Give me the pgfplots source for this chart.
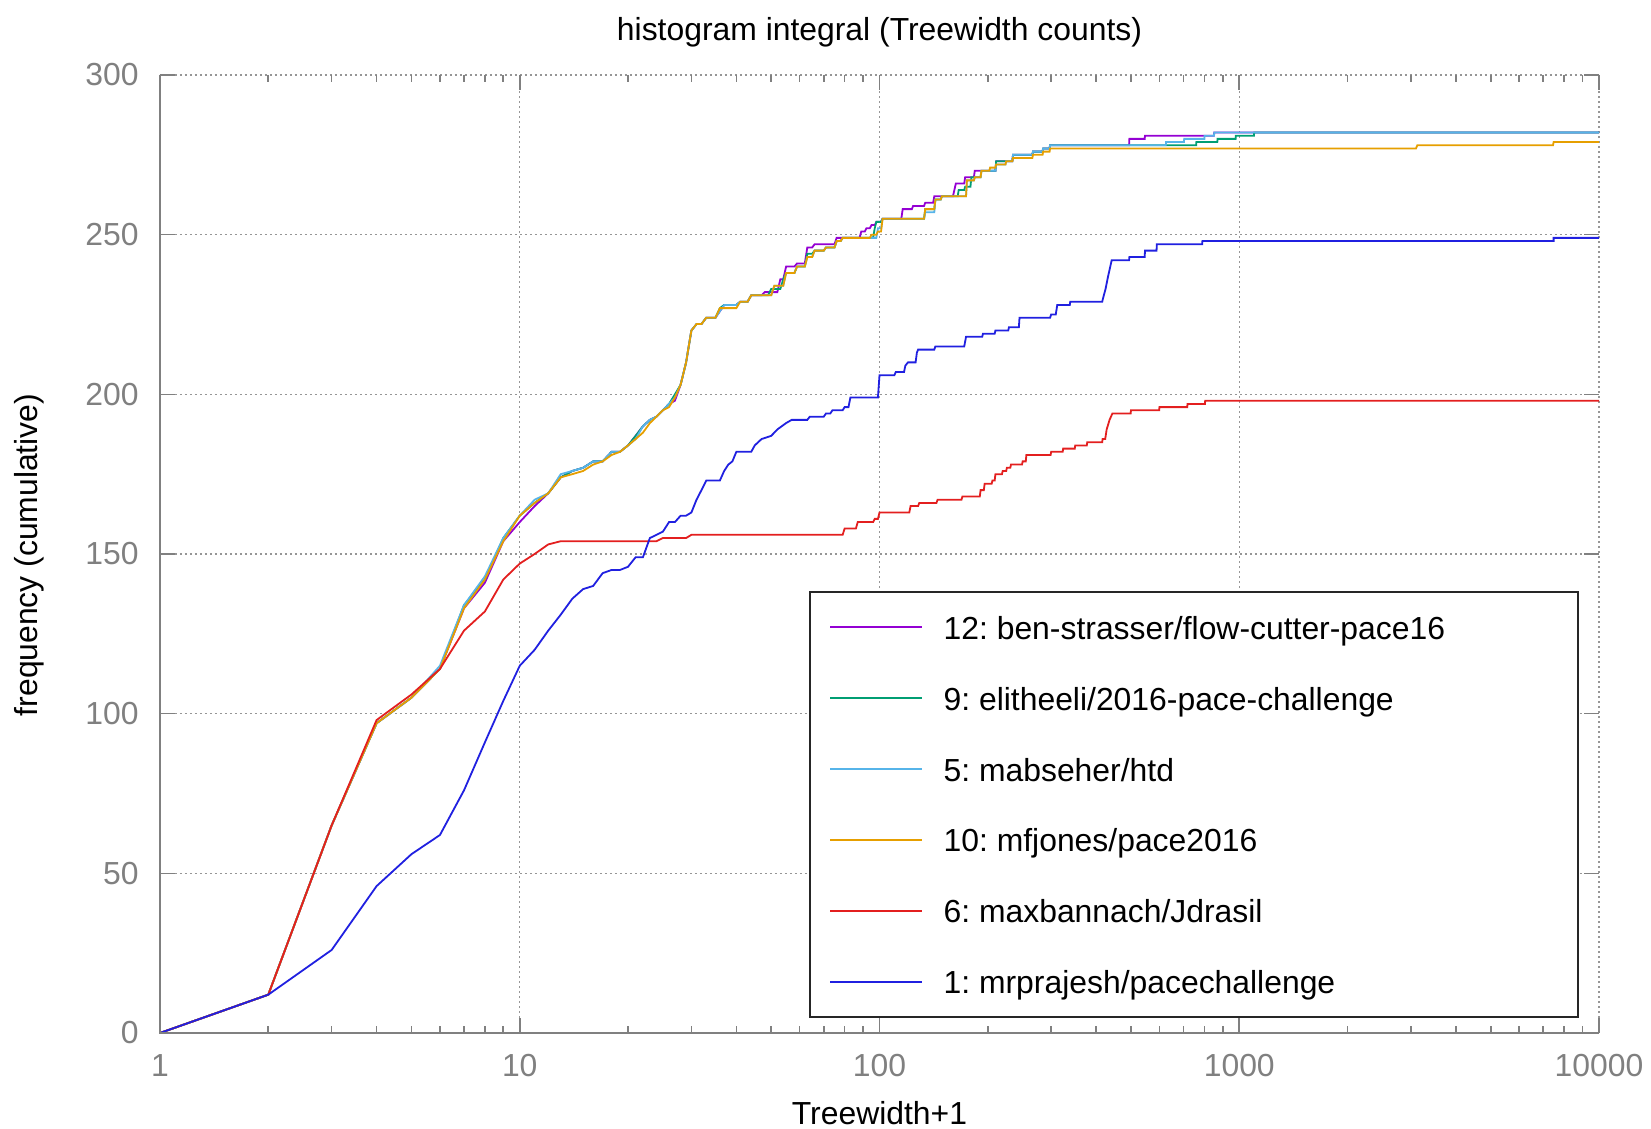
\documentclass[border=0pt]{standalone}
\usepackage{fontspec}
\setmainfont{Liberation Sans}
\usepackage{pgfplots}
\pgfplotsset{compat=1.18}
\definecolor{cpurple}{HTML}{9400D3}
\definecolor{cgreen}{HTML}{009E73}
\definecolor{ccyan}{HTML}{56B4E9}
\definecolor{corange}{HTML}{E69F00}
\definecolor{cred}{HTML}{E31F1F}
\definecolor{cblue}{HTML}{2020E0}
\definecolor{axgray}{RGB}{128,128,128}
\definecolor{gridgray}{RGB}{150,150,150}
\newcommand{\fs}{\fontsize{16}{19}\selectfont}
\newcommand{\st}{\rule[-2.15bp]{0pt}{15.5bp}}
\begin{document}
\frenchspacing
\begin{tikzpicture}
\begin{axis}[
  xmode=log, xmin=1, xmax=10000, ymin=0, ymax=300,
  scale only axis, width=719.5bp, height=479bp,
  xtick={1,10,100,1000,10000}, xticklabels={1,10,100,1000,10000},
  minor xtick={2,3,...,9,20,30,...,90,200,300,...,900,2000,3000,...,9000},
  ytick={0,50,...,300}, yticklabels={0,50,100,150,200,250,300},
  grid=major,
  major grid style={gridgray, line width=0.6bp, dash pattern=on 0.8bp off 1.7bp},
  minor grid style={draw=none},
  tick align=inside,
  major tick length=7.5bp, minor tick length=3.5bp,
  tick style={axgray, line width=0.8bp},
  axis line style={draw=none},
  clip=false,
  tick label style={font=\fs, text=axgray},
  x tick label style={anchor=north, inner sep=0pt, yshift=-10.5bp},
  y tick label style={anchor=east, inner sep=0pt, xshift=-10.5bp},
  every axis title shift=0pt,
  title={histogram integral (Treewidth counts)},
  title style={font=\fs, at={(axis description cs:0.5,1)}, anchor=center, yshift=21.5bp, inner sep=0pt},
  xlabel={Treewidth+1},
  xlabel style={font=\fs, at={(axis description cs:0.5,0)}, anchor=center, yshift=-40bp, inner sep=0pt},
  legend style={at={(0.986,0.0157)}, anchor=south east, draw=black!85, line width=0.8bp, fill=white,
    inner xsep=9.5bp, inner ysep=10.25bp, row sep=20.6bp, column sep=10.5bp, font=\fs,
    nodes={inner sep=0pt}},
  legend cell align=left,
  legend image code/.code={\draw[#1] (0bp,0bp) -- (45.8bp,0bp);},
  every axis plot/.append style={line width=0.9bp},
]
% 12: purple
\addplot[cpurple] coordinates {
(1,0)(2,12)(3,65)(4,97)(5,105)(6,114)(7,133)(8,141)(9,154)(10,160)(11,165)(12,169)(13,174)(14,176)(15,177)(16,179)(17,179)(18,182)(19,182)(20,184)(21,187)(22,190)(23,192)(24,193)(25,195)(26,197)(27,198)(28,203)(29,210)(30,220)(31,222)(32,222)(33,224)(34,224)(35,224)
(36,226)(37,228)(40,228)(41,229)(43,229)(44,231)(47,231)(48,232)(52,232)(53,236)(54,236)(55,240)(58,240)(59,241)(62,241)(63,246)(65,246)(66,247)(75,247)(76,249)(88,249)(89,251)(91,251)(92,252)(94,252)(95,253)(97,253)(98,254)(101,254)(102,255)(115,255)(116,258)(123,258)(124,259)(133,259)(134,260)(141,260)(142,262)(160,262)(163,266)(172,266)(173,268)(183,268)(184,270)(210,270)(211,273)(234,273)(235,275)(266,275)(267,276)(284,276)(285,277)(297,277)(298,278)(494,278)(495,280)(546,280)(547,281)(850,281)(852,282)(10000,282)};
\addlegendentry{\st\makebox[307.7bp][l]{12: ben-strasser/flow-cutter-pace16}}
% 9: green
\addplot[cgreen] coordinates {
(1,0)(2,12)(3,65)(4,97)(5,105)(6,114)(7,134)(8,142)(9,155)(10,162)(11,166)(12,169)(13,174)(14,176)(15,177)(16,179)(17,179)(18,182)(19,182)(20,184)(21,187)(22,190)(23,192)(24,193)(25,195)(26,197)(27,200)(28,203)(29,210)(30,220)(31,222)(32,222)(33,224)(35,224)
(36,227)(37,228)(40,228)(41,229)(43,229)(44,231)(49,231)(50,233)(53,233)(54,236)(55,238)(58,238)(59,240)(62,240)(63,244)(65,244)(66,245)(70,245)(71,246)(75,246)(76,248)(78,248)(79,249)(96,249)(97,252)(98,254)(101,254)(102,255)(133,255)(134,258)(142,258)(143,261)(148,261)(149,262)(165,262)(166,264)(172,264)(173,265)(179,265)(180,268)(191,268)(192,270)(210,270)(211,273)(234,273)(235,275)(266,275)(267,276)(284,276)(285,277)(297,277)(298,278)(759,278)(760,279)(869,279)(870,280)(977,280)(978,281)(1099,281)(1100,282)(10000,282)};
\addlegendentry{\st 9: elitheeli/2016-pace-challenge}
% 5: cyan
\addplot[ccyan] coordinates {
(1,0)(2,12)(3,65)(4,97)(5,105)(6,115)(7,134)(8,143)(9,155)(10,162)(11,167)(12,169)(13,175)(14,176)(15,177)(16,179)(17,179)(18,182)(19,182)(20,184)(21,186)(22,190)(23,192)(24,193)(25,195)(26,197)(27,199)(28,203)(29,210)(30,220)(31,222)(32,222)(33,224)(35,224)
(36,226)(37,228)(40,228)(41,229)(43,229)(44,231)(50,231)(51,234)(54,234)(55,238)(58,238)(59,240)(62,240)(63,243)(65,243)(66,245)(70,245)(71,246)(75,246)(76,248)(78,248)(79,249)(98,249)(99,252)(101,252)(102,255)(133,255)(134,257)(142,257)(143,261)(148,261)(149,262)(174,262)(175,267)(183,267)(184,268)(191,268)(192,270)(210,270)(211,272)(224,272)(225,273)(234,273)(235,275)(266,275)(267,276)(284,276)(285,277)(297,277)(298,278)(625,278)(626,279)(702,279)(703,280)(800,280)(801,281)(851,281)(852,282)(10000,282)};
\addlegendentry{\st 5: mabseher/htd}
% 10: orange
\addplot[corange] coordinates {
(1,0)(2,12)(3,65)(4,97)(5,105)(6,114)(7,133)(8,142)(9,154)(10,162)(11,166)(12,169)(13,174)(14,175)(15,176)(16,178)(17,179)(18,181)(19,182)(20,184)(21,186)(22,188)(23,191)(24,193)(25,195)(26,196)(27,199)(28,203)(29,210)(30,220)(31,222)(32,222)(33,224)(35,224)
(36,227)(40,227)(41,229)(43,229)(44,231)(50,231)(51,234)(54,234)(55,238)(58,238)(59,240)(62,240)(63,243)(65,243)(66,245)(70,245)(71,246)(75,246)(76,248)(78,248)(79,249)(94,249)(95,250)(98,250)(99,251)(101,251)(102,255)(133,255)(134,258)(142,258)(143,261)(148,261)(149,262)(174,262)(175,267)(183,267)(184,268)(191,268)(192,270)(202,270)(203,271)(210,271)(211,272)(224,272)(225,273)(234,273)(235,274)(266,274)(267,275)(284,275)(285,276)(297,276)(298,277)(3100,277)(3126,278)(7450,278)(7480,279)(10000,279)};
\addlegendentry{\st 10: mfjones/pace2016}
% 6: red
\addplot[cred] coordinates {
(1,0)(2,12)(3,65)(4,98)(5,106)(6,114)(7,126)(8,132)(9,142)(10,147)(11,150)(12,153)(13,154)(24,154)(25,155)(29,155)(30,156)(79,156)(80,158)(86,158)(87,160)(96,160)(97,161)(99,161)(100,163)(121,163)(122,165)(128,165)(129,166)(144,166)(145,167)(169,167)(170,168)(190,168)(191,170)(195,170)(196,172)(205,172)(206,173)(209,173)(210,175)(219,175)(220,176)(225,176)(226,177)(231,177)(232,178)(249,178)(250,179)(255,179)(256,181)(299,181)(300,182)(323,182)(324,183)(349,183)(350,184)(377,184)(378,185)(416,185)(417,186)(424,186)(428,189)(436,192)(444,194)(499,194)(500,195)(599,195)(600,196)(717,196)(718,197)(803,197)(804,198)(10000,198)};
\addlegendentry{\st 6: maxbannach/Jdrasil}
% 1: blue
\addplot[cblue] coordinates {
(1,0)(2,12)(3,26)(4,46)(5,56)(6,62)(7,76)(8,91)(9,104)(10,115)(11,120)(12,126)(13,131)(14,136)(15,139)(16,140)(17,144)(18,145)(19,145)(20,146)(21,149)(22,149)(23,155)(24,156)(25,157)(26,160)(27,160)(28,162)(29,162)(30,163)(31,167)(32,170)(33,173)(36,173)(37,176)(38,178)(39,179)(40,182)(44,182)(45,184)(47,186)(50,187)(51,188)(52,189)(55,191)(57,192)(63,192)(64,193)(70,193)(71,194)(73,194)(74,195)(79,195)(80,196)(82,196)(83,199)(99,199)(100,206)(110,206)(111,207)(117,207)(118,209)(120,210)(126,210)(127,213)(128,214)(142,214)(143,215)(172,215)(174,218)(193,218)(194,219)(209,219)(210,220)(228,220)(229,221)(244,221)(245,224)(298,224)(300,225)(309,225)(311,227)(312,228)(338,228)(339,229)(416,229)(418,230)(425,233)(432,237)(438,240)(442,242)(494,242)(495,243)(546,243)(547,245)(589,245)(590,247)(789,247)(790,248)(7479,248)(7480,249)(10000,249)};
\addlegendentry{\st 1: mrprajesh/pacechallenge}
\draw[axgray, line width=1bp] (rel axis cs:0,1) -- (rel axis cs:0,0) -- (rel axis cs:1,0);
\node[font=\fs, rotate=90, anchor=center, inner sep=0pt] at ([xshift=-65.25bp]rel axis cs:0,0.499) {frequency (cumulative)};
\coordinate (ll) at (rel axis cs:0,0);
\coordinate (ur) at (rel axis cs:1,1);
\end{axis}
\pgfresetboundingbox
\path ([shift={(-80bp,-48bp)}]ll) rectangle ([shift={(26bp,37.5bp)}]ur);
\end{tikzpicture}
\end{document}
